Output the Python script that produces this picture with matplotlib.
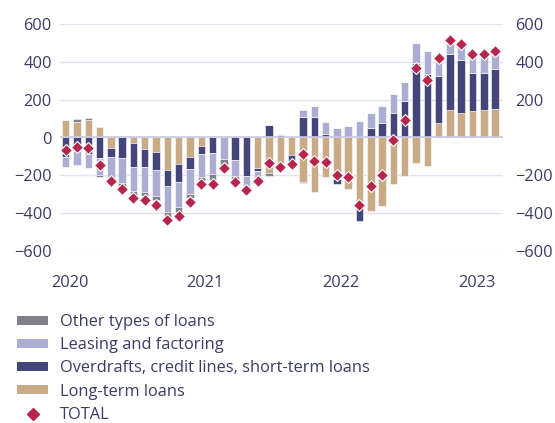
import numpy as np
import matplotlib
matplotlib.use("Agg")
import matplotlib.pyplot as plt
from matplotlib.patches import Patch
from matplotlib.lines import Line2D

plt.rcParams["font.family"] = ["Open Sans", "DejaVu Sans"]

# monthly data, Jan 2020 .. Mar 2023
years = ["2020", "2021", "2022", "2023"]
long_term = [91, 82, 91, 58, -58, 5, -30, -61, -79, -171, -141, -105, -44, 5, 0,
             0, 0, -163, -190, -175, -94, -235, -288, -209, -218, -271, -372,
             -386, -363, -244, -204, -133, -150, 76, 147, 127, 138, 145, 150]
overdrafts = [-102, -72, -89, -109, -44, -110, -128, -93, -92, -84, -93, -61, -44, -83, 8,
              -120, -204, -13, 66, 12, -35, 110, 110, 18, -30, 0, -71,
              50, 76, 127, 195, 393, 336, 251, 296, 283, 202, 195, 212]
leasing = [-56, -74, -74, -89, -110, -132, -127, -136, -137, -140, -135, -132, -122, -112, -112,
           -83, -53, -42, 0, 8, 0, 37, 55, 62, 48, 62, 85,
           80, 88, 103, 97, 106, 119, 85, 71, 76, 85, 85, 88]
other = [0, 14, 14, -9, -12, -17, -20, -20, -21, -24, -25, -20, -24, -30, -40,
         -27, -15, 0, -12, 0, 0, -4, 0, 0, 0, 0, 0,
         0, 0, 0, 0, 0, 0, 0, 0, 0, 0, 0, 0]
total = [-67, -50, -58, -146, -228, -272, -322, -328, -355, -436, -414, -339, -248, -244, -162,
         -236, -278, -228, -136, -158, -138, -88, -122, -128, -200, -207, -358,
         -256, -200, -12, 90, 366, 305, 419, 515, 492, 440, 439, 458]

c_long = "#c9ab87"
c_over = "#444679"
c_lease = "#abadd3"
c_other = "#818189"
c_total = "#b8254c"
c_text = "#3a3c66"
c_grid = "#e3e3f0"
fs = 11.8

fig = plt.figure(figsize=(5.55, 4.23), dpi=100)
ax = fig.add_axes([60 / 555, 1 - 251 / 423, 443 / 555, 227 / 423])

x = np.arange(len(total))
pos_bottom = np.zeros(len(x))
neg_bottom = np.zeros(len(x))
for vals, col in [(long_term, c_long), (overdrafts, c_over), (leasing, c_lease), (other, c_other)]:
    v = np.array(vals, dtype=float)
    bottom = np.where(v >= 0, pos_bottom, neg_bottom)
    ax.bar(x, v, bottom=bottom, width=0.66, color=col, edgecolor="white",
           linewidth=0.4, zorder=3)
    pos_bottom += np.where(v >= 0, v, 0)
    neg_bottom += np.where(v < 0, v, 0)

ax.plot(x, total, "D", ls="none", color=c_total, markersize=6.5,
        markeredgecolor="white", markeredgewidth=0.8, zorder=5)

ax.axhline(0, color="#c9c9e2", lw=1.2, zorder=4)
ax.set_ylim(-600, 600)
ax.set_xlim(-0.5, 38.7)
ax.set_yticks(np.arange(-600, 601, 200))
ax.set_yticklabels(["\u2212600", "\u2212400", "\u2212200", "0", "200", "400", "600"])
ax.grid(axis="y", color=c_grid, lw=1, zorder=0)
ax.set_xticks(np.arange(len(years)) * 12 + 0.35)
ax.set_xticklabels(years)
ax.tick_params(axis="both", length=0, labelsize=fs, labelcolor=c_text)
ax.tick_params(axis="x", pad=17)
ax.tick_params(axis="y", pad=6)
for s in ax.spines.values():
    s.set_visible(False)

ax2 = ax.twinx()
ax2.set_ylim(ax.get_ylim())
ax2.set_yticks([-600, -400, -200, 200, 400, 600])
ax2.set_yticklabels(["\u2212600", "\u2212400", "\u2212200", "200", "400", "600"])
ax2.tick_params(axis="y", length=0, labelsize=fs, labelcolor=c_text, pad=9)
for s in ax2.spines.values():
    s.set_visible(False)

handles = [
    Patch(facecolor=c_other, label="Other types of loans"),
    Patch(facecolor=c_lease, label="Leasing and factoring"),
    Patch(facecolor=c_over, label="Overdrafts, credit lines, short-term loans"),
    Patch(facecolor=c_long, label="Long-term loans"),
    Line2D([], [], marker="D", ls="none", color=c_total, markersize=6.5, label="TOTAL"),
]
leg = fig.legend(handles=handles, loc="upper left", bbox_to_anchor=(17 / 555, 1 - 314 / 423),
                 frameon=False, borderpad=0, borderaxespad=0, fontsize=fs,
                 handlelength=1.9, handleheight=0.5, handletextpad=0.72,
                 labelspacing=0.44, labelcolor=c_text)

fig.savefig("out.png", dpi=100)
